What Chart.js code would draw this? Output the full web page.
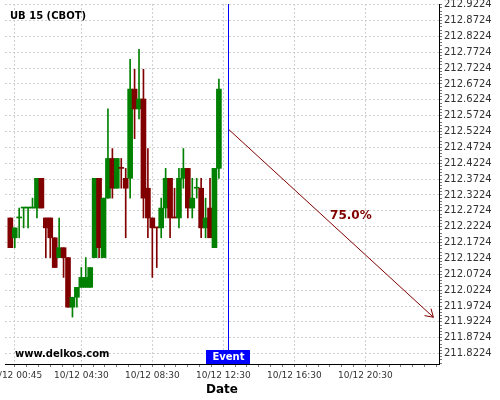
<!DOCTYPE html>
<html><head><meta charset="utf-8">
<script src="https://cdn.jsdelivr.net/npm/chart.js@4"></script>
<style>html,body{margin:0;padding:0;background:#fff}#w{width:500px;height:400px}</style>
</head><body><div id="w"><canvas id="c" width="500" height="400"></canvas></div>
<script>
const chartTitle = 'UB 15 (CBOT)';
const watermark = 'www.delkos.com';
const axisTitle = 'Date';
const times = ['00:30','00:45','01:00','01:15','01:30','01:45','02:00','02:15','02:30','02:45','03:00','03:15','03:30','03:45','04:00','04:15','04:30','04:45','05:00','05:15','05:30','05:45','06:00','06:15','06:30','06:45','07:00','07:15','07:30','07:45','08:00','08:15','08:30','08:45','09:00','09:15','09:30','09:45','10:00','10:15','10:30','10:45','11:00','11:15','11:30','11:45','12:00','12:15'];
const open = [212.25,212.1875,212.25,212.28125,212.28125,212.28125,212.28125,212.375,212.25,212.25,
212.1875,212.125,212.15625,212.125,211.96875,212.0,212.03125,212.03125,212.03125,212.125,
212.375,212.125,212.3125,212.4375,212.34375,212.40625,212.375,212.375,212.65625,212.59375,
212.625,212.34375,212.25,212.21875,212.21875,212.28125,212.375,212.25,212.25,212.375,
212.40625,212.28125,212.34375,212.34375,212.21875,212.28125,212.15625,212.40625];
const high = [212.25,212.21875,212.28125,212.28125,212.28125,212.3125,212.375,212.375,212.25,212.25,
212.1875,212.25,212.15625,212.125,212.0,212.03125,212.09375,212.125,212.09375,212.375,
212.375,212.3125,212.59375,212.46875,212.4375,212.4375,212.40625,212.75,212.71875,212.78125,
212.71875,212.46875,212.25,212.21875,212.3125,212.40625,212.375,212.34375,212.40625,212.46875,
212.40625,212.375,212.375,212.375,212.3125,212.375,212.40625,212.6875];
const low = [212.15625,212.15625,212.1875,212.21875,212.21875,212.28125,212.25,212.28125,212.125,212.125,
212.09375,212.125,212.0625,211.96875,211.9375,211.96875,212.03125,212.03125,212.03125,212.125,
212.125,212.125,212.3125,212.3125,212.34375,212.34375,212.1875,212.3125,212.5,212.5625,
212.25,212.1875,212.0625,212.09375,212.1875,212.25,212.1875,212.25,212.21875,212.34375,
212.25,212.25,212.3125,212.1875,212.1875,212.1875,212.15625,212.375];
const close = [212.15625,212.21875,212.25,212.28125,212.28125,212.28125,212.375,212.28125,212.21875,212.1875,
212.09375,212.15625,212.125,211.96875,212.0,212.03125,212.0625,212.0625,212.09375,212.375,
212.15625,212.3125,212.4375,212.34375,212.4375,212.40625,212.34375,212.65625,212.59375,212.625,
212.3125,212.25,212.21875,212.21875,212.28125,212.375,212.25,212.25,212.375,212.40625,
212.28125,212.3125,212.34375,212.21875,212.25,212.1875,212.40625,212.65625];
const xTickTimes = ['00:45','04:30','08:30','12:30','16:30','20:30'];
const xTickLabels = ['10/12 00:45','10/12 04:30','10/12 08:30','10/12 12:30','10/12 16:30','10/12 20:30'];
const yTicks = [212.9224,212.8724,212.8224,212.7724,212.7224,212.6724,212.6224,212.5724,212.5224,212.4724,212.4224,212.3724,212.3224,212.2724,212.2224,212.1724,212.1224,212.0724,212.0224,211.9724,211.9224,211.8724,211.8224];
const eventTime = '12:47';
const eventLabel = 'Event';
const arrowTimes = ['12:47','24:20'];
const arrowPrices = [212.530, 211.937];
const arrowLabel = '75.0%';

const X_MIN = 12, X_MAX = 1479, Y_MIN = 211.7896, Y_MAX = 212.9245;
const UP = '#008000', DOWN = '#800000';

function toMin(s){const p=s.split(':').map(Number);return p[0]*60+p[1];}

const colors = [];
for (let i = 0; i < times.length; i++) {
  let c;
  if (close[i] > open[i]) c = UP;
  else if (close[i] < open[i]) c = DOWN;
  else if (i > 0 && close[i] > close[i-1]) c = UP;
  else if (i > 0 && close[i] < close[i-1]) c = DOWN;
  else c = i > 0 ? colors[i-1] : UP;
  colors.push(c);
}
const bodies = times.map((t,i)=>({x:toMin(t), y:[open[i], close[i]]}));
const wicks = times.map((t,i)=>({x:toMin(t), y:[low[i], high[i]]}));
const evX = toMin(eventTime);
const arrowData = arrowTimes.map((t,i)=>({x:toMin(t), y:arrowPrices[i]}));

const majorX = xTickTimes.map(toMin);
function buildXTicks(scale){
  const vals = [];
  for (let v = majorX[0]; v < majorX[1]; v += 40) vals.push(v);
  for (let v = majorX[1]; v <= X_MAX; v += 40) vals.push(v);
  majorX.forEach(v=>{ if(!vals.includes(v)) vals.push(v); });
  vals.sort((a,b)=>a-b);
  scale.ticks = vals.filter(v=>v>=X_MIN && v<=X_MAX).map(v=>({value:v, major: majorX.includes(v)}));
}
function buildYTicks(scale){
  const out = [];
  yTicks.forEach(v=>{
    out.push({value:v, major:true});
    for (let j=1;j<5;j++){ const m = +(v - 0.01*j).toFixed(4); if (m >= Y_MIN) out.push({value:m, major:false}); }
  });
  out.sort((a,b)=>a.value-b.value);
  scale.ticks = out;
}

const overlay = {
  id:'overlay',
  afterDatasetsDraw(chart){
    const ctx = chart.ctx, area = chart.chartArea;
    const ex = Math.round(chart.scales.x.getPixelForValue(evX)) + 0.5;
    ctx.save();
    ctx.strokeStyle = '#0000ff'; ctx.lineWidth = 1;
    ctx.beginPath(); ctx.moveTo(ex, area.top); ctx.lineTo(ex, area.bottom); ctx.stroke();
    const meta = chart.getDatasetMeta(2);
    const p0 = meta.data[0], p1 = meta.data[1];
    const ang = Math.atan2(p1.y-p0.y, p1.x-p0.x);
    const L = 9, a = 0.56;
    ctx.strokeStyle = DOWN; ctx.lineWidth = 1;
    ctx.beginPath();
    ctx.moveTo(p1.x - L*Math.cos(ang-a), p1.y - L*Math.sin(ang-a));
    ctx.lineTo(p1.x, p1.y);
    ctx.lineTo(p1.x - L*Math.cos(ang+a), p1.y - L*Math.sin(ang+a));
    ctx.stroke();
    ctx.fillStyle = DOWN;
    ctx.font = 'bold 12px "DejaVu Sans"';
    ctx.textAlign = 'center'; ctx.textBaseline = 'middle';
    ctx.fillText(arrowLabel, (p0.x+p1.x)/2 + 20, (p0.y+p1.y)/2 - 7);
    ctx.restore();
  },
  afterDraw(chart){
    const ctx = chart.ctx, area = chart.chartArea;
    const xs = chart.scales.x;
    ctx.save();
    ctx.fillStyle = '#000';
    ctx.font = 'bold 10px "DejaVu Sans"';
    ctx.textAlign = 'left'; ctx.textBaseline = 'middle';
    ctx.fillText(chartTitle, 10, 16);
    ctx.fillText(watermark, 15, 354);
    const ex = Math.round(xs.getPixelForValue(evX));
    ctx.fillStyle = '#0000ff';
    ctx.fillRect(ex - 22, area.bottom - 14, 44, 14);
    ctx.fillStyle = '#fff';
    ctx.textAlign = 'center';
    ctx.fillText(eventLabel, ex + 0.5, area.bottom - 7);
    ctx.restore();
  }
};

new Chart(document.getElementById('c'), {
  type:'bar',
  data:{datasets:[
    {type:'bar', data:bodies, backgroundColor:colors, barThickness:5, minBarLength:1, grouped:false, borderWidth:0},
    {type:'bar', data:wicks, backgroundColor:colors, barThickness:1, minBarLength:1, grouped:false, borderWidth:0},
    {type:'line', data:arrowData, borderColor:DOWN, borderWidth:1, pointRadius:0}
  ]},
  options:{
    responsive:false, animation:false,
    layout:{padding:{left:5, top:4, right:0, bottom:0}},
    plugins:{legend:{display:false}, tooltip:{enabled:false}, title:{display:false}},
    scales:{
      x:{type:'linear', min:X_MIN, max:X_MAX, offset:false,
        afterBuildTicks: buildXTicks,
        afterFit(s){ s.height = 36; s.paddingLeft = 0; s.paddingRight = 0; },
        grid:{offset:false, color:c=>c.tick && c.tick.major ? '#d0d0d0' : 'rgba(0,0,0,0)', tickColor:'#777', tickLength:3, lineWidth:1},
        border:{display:true, color:'#000', width:1, dash:[2,2]},
        ticks:{autoSkip:false, maxRotation:0, minRotation:0, padding:3, color:'#333', font:{size:9, family:'DejaVu Sans'},
          callback:(v)=>{const k = majorX.indexOf(v); return k>=0 ? xTickLabels[k] : '';}},
        title:{display:true, text:axisTitle, color:'#000', font:{size:12, weight:'bold', family:'DejaVu Sans'}, padding:{top:0,bottom:3}}
      },
      y:{type:'linear', position:'right', min:Y_MIN, max:Y_MAX,
        afterBuildTicks: buildYTicks,
        afterFit(s){ s.width = 61; s.paddingTop = 0; s.paddingBottom = 0; },
        grid:{color:c=>c.tick && c.tick.major ? '#d0d0d0' : 'rgba(0,0,0,0)', tickColor:'#777', tickLength:3, lineWidth:1},
        border:{display:true, color:'#000', width:1, dash:[2,2]},
        ticks:{autoSkip:false, padding:2, color:'#333', font:{size:10, family:'DejaVu Sans'},
          callback:(v,i,t)=> t[i].major ? v.toFixed(4) : ''}
      }
    }
  },
  plugins:[overlay]
});
</script></body></html>
